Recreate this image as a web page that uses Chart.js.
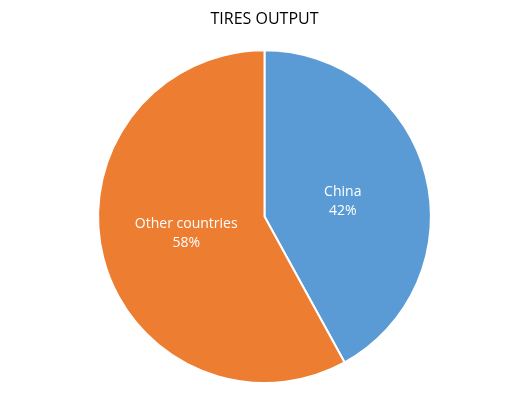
<!DOCTYPE html>
<html>
<head>
<meta charset="utf-8">
<script src="https://cdn.jsdelivr.net/npm/chart.js@4"></script>
<style>
  html, body { margin: 0; padding: 0; background: #ffffff; }
  #wrap { width: 529px; height: 400px; }
</style>
</head>
<body>
<div id="wrap"><canvas id="tiresChart"></canvas></div>
<script>
// Tire output share by region
const categories = ['China', 'Other countries'];
const shares = [42, 58];
const sliceColors = ['#5B9BD5', '#ED7D31'];

// Draw category name and percentage inside each slice
const sliceLabels = {
  id: 'sliceLabels',
  afterDatasetsDraw(chart) {
    const ctx = chart.ctx;
    const meta = chart.getDatasetMeta(0);
    const total = shares.reduce((a, b) => a + b, 0);
    ctx.save();
    ctx.fillStyle = '#ffffff';
    ctx.font = '14px "Open Sans", sans-serif';
    ctx.textAlign = 'center';
    ctx.textBaseline = 'middle';
    meta.data.forEach((arc, i) => {
      const mid = (arc.startAngle + arc.endAngle) / 2 + 0.05;
      const r = arc.outerRadius * 0.48;
      const x = arc.x + Math.cos(mid) * r;
      const y = arc.y + Math.sin(mid) * r;
      const pct = Math.round(shares[i] / total * 100) + '%';
      ctx.fillText(categories[i], x, y - 9);
      ctx.fillText(pct, x, y + 10);
    });
    ctx.restore();
  }
};

new Chart(document.getElementById('tiresChart'), {
  type: 'pie',
  data: {
    labels: categories,
    datasets: [{
      data: shares,
      backgroundColor: sliceColors,
      borderColor: '#ffffff',
      borderWidth: 2,
      hoverOffset: 0
    }]
  },
  options: {
    responsive: true,
    maintainAspectRatio: false,
    animation: false,
    layout: {
      padding: { top: 0, bottom: 16, left: 0, right: 0 }
    },
    plugins: {
      legend: { display: false },
      tooltip: { enabled: false },
      title: {
        display: true,
        text: 'TIRES OUTPUT',
        color: '#000000',
        font: { family: '"Open Sans", sans-serif', size: 16, weight: 'normal' },
        padding: { top: 10, bottom: 20 }
      }
    }
  },
  plugins: [sliceLabels]
});
</script>
</body>
</html>
